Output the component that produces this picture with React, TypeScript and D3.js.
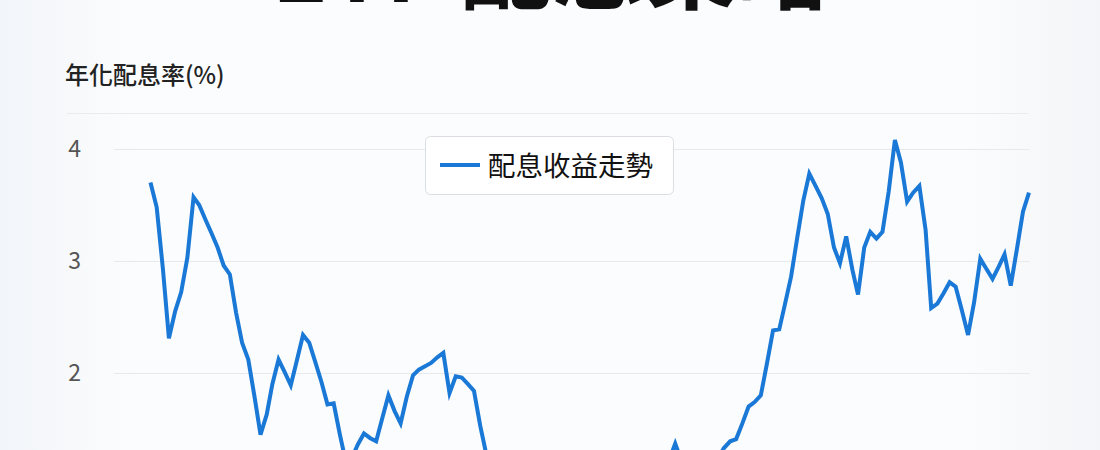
import React from "react";
import * as d3 from "d3";

// ---- data (monthly series) ----
const startMonth = "2012-07";
const seriesName = "配息收益走勢";
const yTicks = [2, 3, 4];
const gridTicks = [1, 2, 3, 4];
const titleText = "ETF 配息策略";
const yAxisTitle = "年化配息率(%)";
const yieldValues = [
  3.70, 3.48, 2.93, 2.31, 2.55, 2.72, 3.03, 3.57, 3.50, 3.37,
  3.25, 3.12, 2.96, 2.88, 2.54, 2.27, 2.12, 1.80, 1.45, 1.63,
  1.90, 2.12, 2.01, 1.89, 2.11, 2.34, 2.27, 2.10, 1.92, 1.72,
  1.73, 1.45, 1.22, 1.24, 1.36, 1.46, 1.42, 1.39, 1.60, 1.80,
  1.66, 1.55, 1.79, 1.98, 2.03, 2.06, 2.09, 2.14, 2.18, 1.82,
  1.97, 1.96, 1.90, 1.84, 1.53, 1.27, 1.05, 0.95, 0.88, 0.92,
  0.85, 0.78, 0.82, 0.75, 0.70, 0.74, 0.68, 0.72, 0.80, 0.76,
  0.84, 0.90, 0.86, 0.95, 1.00, 0.96, 1.05, 1.02, 1.10, 1.06,
  1.12, 1.08, 1.15, 1.18, 1.14, 1.22, 1.37, 1.22, 1.18, 1.15,
  1.20, 1.17, 1.22, 1.24, 1.33, 1.39, 1.41, 1.55, 1.70, 1.74,
  1.80, 2.08, 2.38, 2.39, 2.61, 2.86, 3.20, 3.54, 3.78, 3.67,
  3.56, 3.42, 3.12, 2.98, 3.22, 2.92, 2.70, 3.12, 3.26, 3.20,
  3.26, 3.62, 4.08, 3.88, 3.53, 3.61, 3.67, 3.28, 2.58, 2.62,
  2.71, 2.81, 2.77, 2.56, 2.34, 2.63, 3.02, 2.93, 2.84, 2.95,
  3.06, 2.78, 3.10, 3.44, 3.61,
];

const parseMonth = d3.timeParse("%Y-%m");
const firstDate = parseMonth(startMonth) as Date;
const dates = yieldValues.map((_, i) => d3.timeMonth.offset(firstDate, i));
const domainStart = d3.timeMonth.offset(firstDate, -6);

const W = 1100;
const H = 450;
const FONT = "'Noto Sans CJK TC', 'Noto Sans', sans-serif";

export default function App() {
  const x = d3
    .scaleTime()
    .domain([domainStart, dates[dates.length - 1]])
    .range([114, 1029]);
  const y = d3.scaleLinear().domain([0, 4]).range([597, 149]);

  const line = d3
    .line<number>()
    .x((_, i) => x(dates[i]))
    .y((d) => y(d));

  return (
    <svg
      width={W}
      height={H}
      style={{ position: "absolute", left: 0, top: 0, display: "block" }}
      fontFamily={FONT}
    >
      <defs>
        <linearGradient id="bg" x1="0" y1="0" x2="1" y2="0">
          <stop offset="0" stopColor="#f2f5f9" />
          <stop offset="0.12" stopColor="#fbfcfd" />
          <stop offset="0.88" stopColor="#fbfcfd" />
          <stop offset="1" stopColor="#f3f5f8" />
        </linearGradient>
      </defs>
      <rect x={0} y={0} width={W} height={H} fill="url(#bg)" />

      {/* title (clipped by top edge, as in the source) */}
      <text
        x={550}
        y={2}
        textAnchor="middle"
        fontSize={92}
        fontWeight={700}
        fill="#111"
      >
        {titleText}
      </text>

      {/* y axis title */}
      <text x={65} y={84} fontSize={24} fontWeight={500} fill="#222">
        {yAxisTitle}
      </text>
      <line x1={67} x2={1028} y1={113.5} y2={113.5} stroke="#e9ecef" strokeWidth={1} />

      {/* grid + tick labels */}
      {gridTicks.map((t) => (
        <line
          key={"g" + t}
          x1={114}
          x2={1029}
          y1={Math.round(y(t)) + 0.5}
          y2={Math.round(y(t)) + 0.5}
          stroke="#e6e9ed"
          strokeWidth={1}
        />
      ))}
      {yTicks.map((t) => (
        <text
          key={"t" + t}
          x={81}
          y={y(t)}
          dy="0.35em"
          textAnchor="end"
          fontSize={23}
          fill="#555"
        >
          {t}
        </text>
      ))}

      {/* series */}
      <path
        d={line(yieldValues) || ""}
        fill="none"
        stroke="#1a78d6"
        strokeWidth={4}
        strokeLinejoin="miter"
        strokeMiterlimit={4}
      />

      {/* legend */}
      <rect
        x={425.5}
        y={136.5}
        width={248}
        height={58}
        rx={5}
        fill="#ffffff"
        stroke="#dadde2"
      />
      <line x1={440} x2={480} y1={165} y2={165} stroke="#1a78d6" strokeWidth={4} />
      <text x={488} y={176} fontSize={27.5} fill="#111">
        {seriesName}
      </text>
    </svg>
  );
}
